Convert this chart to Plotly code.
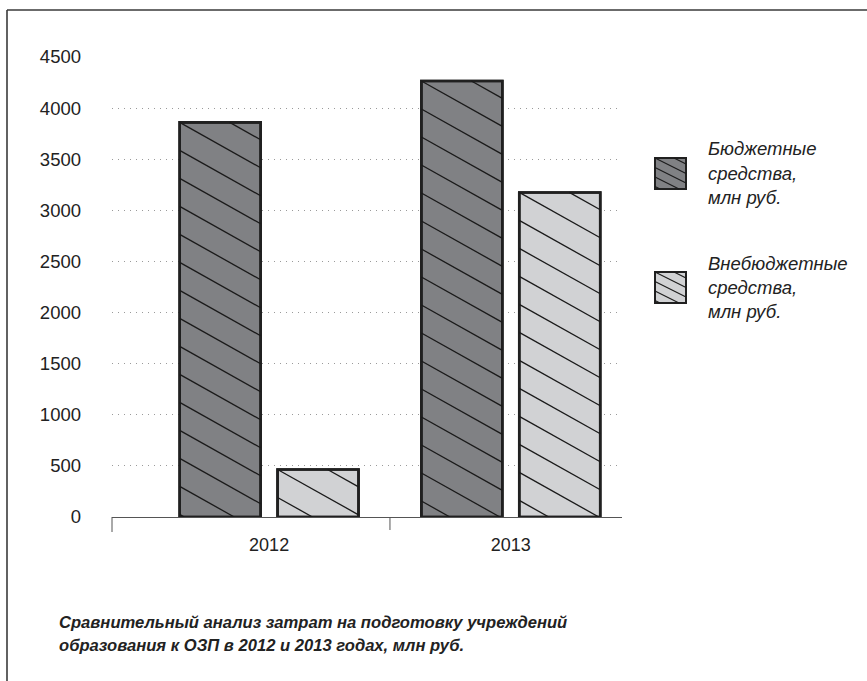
import plotly.graph_objects as go

# ---- data ----
years = ["2012", "2013"]
budget = [3860, 4265]          # Бюджетные средства, млн руб.
extra = [465, 3175]            # Внебюджетные средства, млн руб.
y_ticks = [0, 500, 1000, 1500, 2000, 2500, 3000, 3500, 4000, 4500]
legend_texts = [["Бюджетные", "средства,", "млн руб."],
                ["Внебюджетные", "средства,", "млн руб."]]
title_lines = ["Сравнительный анализ затрат на подготовку учреждений",
               "образования к ОЗП в 2012 и 2013 годах, млн руб."]

W, H = 867, 681
L, R, T, B = 112, 622, 57, 517          # plot area in pixels
XR = [-0.65, 1.46]
YR = [0, 4500]
px_x = (R - L) / (XR[1] - XR[0])
px_y = (B - T) / (YR[1] - YR[0])

DARK = "#808184"
LIGHT = "#d1d2d4"
EDGE = "#202020"
FONT = "Liberation Sans, Arial, sans-serif"

bar_w = 0.335
gap = 0.07
offsets = [-(bar_w + gap / 2), gap / 2]

fig = go.Figure()
for vals, col, off in [(budget, DARK, offsets[0]), (extra, LIGHT, offsets[1])]:
    fig.add_trace(go.Bar(x=list(range(len(years))), y=vals, width=bar_w, offset=off,
                         marker=dict(color=col, line=dict(color=EDGE, width=2.6)),
                         showlegend=False, hoverinfo="skip"))

# hatch lines (down-right diagonals) clipped to each bar
slope_px = 0.56
spacing_px = 28
m = slope_px * px_x / px_y          # data-y drop per data-x unit
sp = spacing_px / px_y
for vals, off in [(budget, offsets[0]), (extra, offsets[1])]:
    hx, hy = [], []
    for i, v in enumerate(vals):
        x0 = i + off
        x1 = x0 + bar_w
        k = -10
        while True:
            yk = v - k * sp          # y at left edge
            if yk < 0:
                break
            xa = max(x0, x0 + (yk - v) / m)
            xb = min(x1, x0 + yk / m)
            if xb > xa:
                hx += [xa, xb, None]
                hy += [yk - m * (xa - x0), yk - m * (xb - x0), None]
            k += 1
    fig.add_trace(go.Scatter(x=hx, y=hy, mode="lines", line=dict(color="#1a1a1a", width=1.3),
                             showlegend=False, hoverinfo="skip", cliponaxis=True))

# redraw bar outlines on top of hatch
for vals, off in [(budget, offsets[0]), (extra, offsets[1])]:
    fig.add_trace(go.Bar(x=list(range(len(years))), y=vals, width=bar_w, offset=off,
                         marker=dict(color="rgba(0,0,0,0)", line=dict(color=EDGE, width=2.6)),
                         showlegend=False, hoverinfo="skip"))


def pxX(p):
    return (p - L) / (R - L)


def pxY(p):
    return (B - p) / (B - T)


shapes = []
# frame
shapes.append(dict(type="line", xref="paper", yref="paper", x0=pxX(7), x1=pxX(7), y0=pxY(10), y1=pxY(H + 5),
                   line=dict(color="#3a3a3a", width=1.6)))
shapes.append(dict(type="line", xref="paper", yref="paper", x0=pxX(7), x1=pxX(W + 5), y0=pxY(10), y1=pxY(10),
                   line=dict(color="#3a3a3a", width=1.6)))
# category boundary ticks
shapes.append(dict(type="line", xref="paper", yref="paper", x0=0, x1=0, y0=0, y1=pxY(B + 15),
                   line=dict(color="#555", width=1)))
shapes.append(dict(type="line", xref="x", yref="paper", x0=0.5, x1=0.5, y0=0, y1=pxY(B + 13),
                   line=dict(color="#555", width=1)))

# custom legend
annotations = []
leg = [(DARK, 158, [148, 173, 197], legend_texts[0]),
       (LIGHT, 272, [263, 287, 311], legend_texts[1])]
for col, top, ys, texts in leg:
    lx0, lx1, ly0, ly1 = 655, 686, top, top + 31
    shapes.append(dict(type="rect", xref="paper", yref="paper", x0=pxX(lx0), x1=pxX(lx1), y0=pxY(ly1), y1=pxY(ly0),
                       fillcolor=col, line=dict(color=EDGE, width=2)))
    s = 0.5
    spc = 9.5
    for k in range(-4, 5):
        yk = ly0 + k * spc
        xa = max(lx0, lx0 + (ly0 - yk) / s)
        xb = min(lx1, lx0 + (ly1 - yk) / s)
        if xb > xa:
            shapes.append(dict(type="line", xref="paper", yref="paper",
                               x0=pxX(xa), x1=pxX(xb), y0=pxY(yk + s * (xa - lx0)), y1=pxY(yk + s * (xb - lx0)),
                               line=dict(color="#1a1a1a", width=1.1)))
    for yy, tt in zip(ys, texts):
        annotations.append(dict(xref="paper", yref="paper", x=pxX(706), y=pxY(yy), text="<i>" + tt + "</i>",
                                showarrow=False, xanchor="left", yanchor="middle",
                                font=dict(family=FONT, size=18.5, color="#222")))

for yy, tt in zip([622, 645], title_lines):
    annotations.append(dict(xref="paper", yref="paper", x=pxX(57), y=pxY(yy), text="<b><i>" + tt + "</i></b>",
                            showarrow=False, xanchor="left", yanchor="middle",
                            font=dict(family=FONT, size=16.6, color="#222")))

fig.update_layout(
    width=W, height=H, margin=dict(l=L, r=W - R, t=T, b=H - B),
    paper_bgcolor="white", plot_bgcolor="white", barmode="overlay",
    shapes=shapes, annotations=annotations, showlegend=False,
    xaxis=dict(range=XR, tickmode="array", tickvals=[0, 1], ticktext=years, showgrid=False,
               showline=True, linecolor="#555", linewidth=1, ticks="", zeroline=False,
               tickfont=dict(family=FONT, size=18, color="#222"), ticklabelstandoff=11, fixedrange=True),
    yaxis=dict(range=YR, tickmode="array", tickvals=y_ticks, showgrid=True, gridcolor="#9a9a9a",
               griddash="1px,5px", gridwidth=1, zeroline=False, showline=False, ticks="",
               tickfont=dict(family=FONT, size=18.5, color="#222"), ticklabelstandoff=30, fixedrange=True),
)

fig.write_html("out.html")
